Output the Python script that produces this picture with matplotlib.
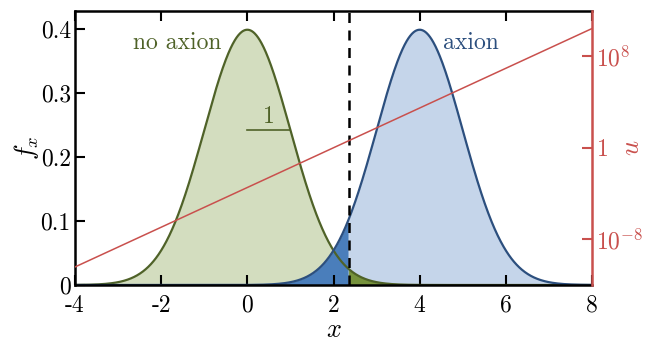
import numpy as np
import matplotlib
matplotlib.use("Agg")
import matplotlib.pyplot as plt

plt.rcParams['mathtext.fontset'] = 'cm'
plt.rcParams['font.family'] = ['cmr10', 'DejaVu Serif']
plt.rcParams['axes.unicode_minus'] = False

# data
mu_noaxion = 0.0
mu_axion = 4.0
sigma = 1.0
threshold = 2.35
x_ticks = [-4, -2, 0, 2, 4, 6, 8]
x_ticklabels = ['-4', '-2', '0', '2', '4', '6', '8']
y_ticks = [0, 0.1, 0.2, 0.3, 0.4]
y_ticklabels = ['0', '0.1', '0.2', '0.3', '0.4']
u_ticks = [1e-8, 1, 1e8]
u_ticklabels = [r'$10^{-8}$', r'$1$', r'$10^{8}$']

x = np.linspace(-4, 8, 1201)
f0 = np.exp(-0.5 * ((x - mu_noaxion) / sigma) ** 2) / (sigma * np.sqrt(2 * np.pi))
f1 = np.exp(-0.5 * ((x - mu_axion) / sigma) ** 2) / (sigma * np.sqrt(2 * np.pi))
u = f1 / f0

green_line = '#4f6228'
green_light = '#d3ddbf'
green_dark = '#76923c'
blue_line = '#2c4f7e'
blue_light = '#c5d5ea'
blue_dark = '#4a7ebb'
red = '#c9504d'

fig = plt.figure(figsize=(6.46, 3.43), dpi=100)
ax = fig.add_axes([75/646, 1 - 285/343, (592-75)/646, (285-10.5)/343])

left = x <= threshold
right = x >= threshold
ax.fill_between(x[left], 0, f0[left], color=green_light, lw=0)
ax.fill_between(x[right], 0, f1[right], color=blue_light, lw=0)
ax.fill_between(x[left], 0, f1[left], color=blue_dark, lw=0)
ax.fill_between(x[right], 0, f0[right], color=green_dark, lw=0)
ax.plot(x, f0, color=green_line, lw=1.6)
ax.plot(x, f1, color=blue_line, lw=1.6)
ax.axvline(threshold, color='black', lw=1.8, ls=(0, (4, 3)))

# sigma marker
s_y = np.exp(-0.5) / np.sqrt(2 * np.pi)
ax.plot([mu_noaxion, mu_noaxion + sigma], [s_y, s_y], color=green_line, lw=1.2)
ax.text(mu_noaxion + 0.5 * sigma, s_y + 0.004, '1', color=green_line, fontsize=17,
        ha='center', va='bottom')

ax.text(-1.62, 0.379, 'no axion', color=green_line, fontsize=17, ha='center', va='center')
ax.text(4.54, 0.379, 'axion', color=blue_line, fontsize=17, ha='left', va='center')

ax.set_xlim(-4, 8)
ax.set_ylim(0, 0.429)
ax.set_xticks(x_ticks)
ax.set_xticklabels(x_ticklabels)
ax.set_yticks(y_ticks)
ax.set_yticklabels(y_ticklabels)
ax.tick_params(axis='both', direction='in', length=7, width=1.5, labelsize=17,
               top=True, bottom=True, left=True, right=False)
ax.tick_params(axis='x', pad=7)
ax.tick_params(axis='y', pad=3)
for s in ['left', 'top', 'bottom']:
    ax.spines[s].set_linewidth(1.8)
ax.spines['right'].set_visible(False)
ax.set_xlabel(r'$x$', fontsize=19, labelpad=1)
ax.set_ylabel(r'$f_x$', fontsize=19, labelpad=0)

ax2 = ax.twinx()
ax2.plot(x, u, color=red, lw=1.1)
ax2.set_yscale('log')
ax2.set_ylim(1e-12, 1e12)
ax2.set_yticks(u_ticks)
ax2.set_yticklabels(u_ticklabels)
ax2.minorticks_off()
ax2.tick_params(axis='y', direction='in', length=7, width=1.5, labelsize=17,
                colors=red, right=True, pad=3)
ax2.spines['right'].set_color(red)
ax2.spines['right'].set_linewidth(1.8)
for s in ['left', 'top', 'bottom']:
    ax2.spines[s].set_visible(False)
ax2.set_ylabel(r'$u$', fontsize=19, color=red, ha='center', va='center')
ax2.yaxis.set_label_coords((632 - 75) / 517, 0.5)

fig.savefig('out.png', dpi=100)
